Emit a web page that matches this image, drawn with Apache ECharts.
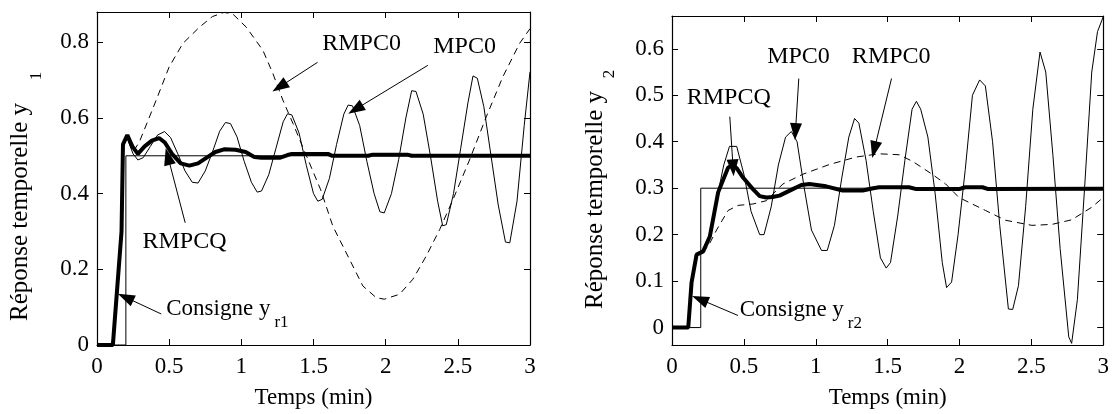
<!DOCTYPE html>
<html><head><meta charset="utf-8">
<script src="https://cdn.jsdelivr.net/npm/echarts@6/dist/echarts.min.js"></script>
<style>html,body{margin:0;padding:0;background:#fff}#c{width:1112px;height:414px}</style>
</head><body><div id="c"></div>
<script>
const FONT = '"Liberation Serif","Times New Roman",serif';

// ---------- tick labels ----------
const xTicks = [0, 0.5, 1, 1.5, 2, 2.5, 3];
const y1Ticks = [0, 0.2, 0.4, 0.6, 0.8];
const y2Ticks = [0, 0.1, 0.2, 0.3, 0.4, 0.5, 0.6];
const xRange = [0, 3];
const y1Range = [0, 0.88];
const y2Range = [-0.0375, 0.6706];

// ---------- y1 (left plot) ----------
const y1SetT = [0, 0.2, 0.2, 3];
const y1SetV = [0, 0, 0.5, 0.5];

const y1Mpc0T = [0,0.11,0.17,0.185,0.21,0.25,0.283,0.32,0.37,0.42,0.468,0.51,0.56,0.61,0.66,0.70,0.75,0.80,0.85,0.89,0.925,0.97,1.02,1.07,1.11,1.14,1.19,1.24,1.29,1.32,1.35,1.40,1.45,1.50,1.53,1.56,1.61,1.66,1.71,1.74,1.77,1.82,1.87,1.92,1.96,1.99,2.04,2.09,2.14,2.18,2.21,2.26,2.31,2.36,2.395,2.42,2.47,2.52,2.57,2.605,2.635,2.68,2.73,2.78,2.83,2.86,2.91,2.96,3.0];
const y1Mpc0V = [0,0,0.30,0.53,0.545,0.505,0.489,0.495,0.525,0.555,0.564,0.548,0.505,0.46,0.43,0.428,0.46,0.51,0.565,0.588,0.585,0.55,0.485,0.43,0.404,0.407,0.45,0.52,0.59,0.611,0.608,0.56,0.475,0.40,0.380,0.385,0.44,0.53,0.61,0.634,0.632,0.58,0.485,0.40,0.352,0.349,0.40,0.49,0.60,0.672,0.670,0.61,0.50,0.38,0.315,0.318,0.40,0.52,0.64,0.711,0.705,0.63,0.50,0.37,0.272,0.270,0.38,0.58,0.722];

const y1Rmpc0T = [0,0.11,0.17,0.18,0.21,0.25,0.295,0.35,0.41,0.50,0.595,0.71,0.80,0.88,0.94,1.034,1.149,1.218,1.288,1.357,1.44,1.55,1.634,1.75,1.842,1.935,1.99,2.096,2.189,2.281,2.374,2.466,2.581,2.697,2.812,2.928,3.0];
const y1Rmpc0V = [0,0,0.30,0.53,0.545,0.51,0.538,0.59,0.647,0.735,0.797,0.84,0.868,0.879,0.875,0.84,0.779,0.718,0.647,0.586,0.51,0.41,0.314,0.226,0.156,0.125,0.121,0.134,0.174,0.235,0.305,0.384,0.489,0.603,0.709,0.797,0.836];

const y1RmpcqT = [0,0.11,0.17,0.18,0.21,0.245,0.283,0.33,0.38,0.43,0.47,0.52,0.58,0.64,0.70,0.76,0.82,0.88,0.96,1.03,1.09,1.14,1.27,1.32,1.35,1.60,1.63,1.88,1.91,2.15,2.18,3.0];
const y1RmpcqV = [0,0,0.30,0.53,0.555,0.525,0.505,0.525,0.54,0.547,0.535,0.505,0.48,0.474,0.48,0.495,0.51,0.517,0.516,0.51,0.497,0.495,0.495,0.502,0.505,0.505,0.5,0.5,0.503,0.503,0.5,0.5];

// ---------- y2 (right plot) ----------
const y2SetT = [0, 0.2, 0.2, 3];
const y2SetV = [0, 0, 0.3, 0.3];

const y2Mpc0T = [0,0.113,0.136,0.171,0.217,0.263,0.321,0.36,0.40,0.45,0.50,0.55,0.61,0.64,0.69,0.74,0.79,0.83,0.87,0.92,0.97,1.04,1.08,1.13,1.18,1.23,1.27,1.30,1.35,1.40,1.45,1.49,1.52,1.57,1.62,1.67,1.70,1.73,1.78,1.83,1.88,1.91,1.945,1.99,2.04,2.09,2.14,2.18,2.23,2.28,2.34,2.37,2.41,2.46,2.51,2.56,2.60,2.65,2.70,2.76,2.78,2.82,2.87,2.92,2.96,3.0];
const y2Mpc0V = [0,0,0.097,0.157,0.164,0.196,0.291,0.35,0.39,0.39,0.33,0.25,0.20,0.20,0.26,0.35,0.41,0.422,0.40,0.30,0.21,0.166,0.166,0.22,0.32,0.41,0.45,0.44,0.36,0.25,0.15,0.128,0.14,0.24,0.36,0.47,0.487,0.47,0.41,0.29,0.14,0.086,0.098,0.20,0.34,0.50,0.533,0.52,0.40,0.22,0.04,0.039,0.09,0.26,0.47,0.593,0.55,0.37,0.17,-0.02,-0.034,0.06,0.30,0.55,0.637,0.669];

const y2Rmpc0T = [0,0.113,0.136,0.171,0.217,0.26,0.31,0.39,0.46,0.563,0.656,0.771,0.91,1.095,1.28,1.44,1.58,1.672,1.81,1.904,1.996,2.181,2.32,2.504,2.642,2.781,2.92,3.0];
const y2Rmpc0V = [0,0,0.097,0.157,0.162,0.18,0.21,0.252,0.263,0.266,0.273,0.309,0.33,0.351,0.367,0.374,0.372,0.358,0.33,0.309,0.28,0.252,0.231,0.220,0.222,0.232,0.259,0.28];

const y2RmpcqT = [0,0.113,0.136,0.171,0.217,0.263,0.321,0.344,0.39,0.42,0.45,0.494,0.563,0.61,0.656,0.70,0.748,0.84,0.90,0.956,1.072,1.187,1.326,1.40,1.441,1.649,1.70,1.996,2.04,2.16,2.2,3.0];
const y2RmpcqV = [0,0,0.097,0.157,0.164,0.196,0.291,0.309,0.344,0.351,0.343,0.323,0.298,0.283,0.28,0.281,0.284,0.298,0.307,0.309,0.304,0.295,0.295,0.3,0.302,0.302,0.298,0.298,0.302,0.302,0.298,0.299];

// ---------- annotations (data coordinates) ----------
const ann1Text = ['RMPC0', 'MPC0', 'RMPCQ'];
const ann1TextT = [1.833, 2.547, 0.606];
const ann1TextV = [0.797, 0.787, 0.274];
const ann1ArrFromT = [1.528, 2.292, 0.611, 0.445];
const ann1ArrFromV = [0.747, 0.739, 0.323, 0.082];
const ann1ArrToT = [1.265, 1.791, 0.491, 0.198];
const ann1ArrToV = [0.682, 0.623, 0.498, 0.126];
const ann1Cons = {main: 'Consigne y', sub: 'r1', t: 0.48, v: 0.095};

const ann2Text = ['RMPCQ', 'MPC0', 'RMPC0'];
const ann2TextT = [0.395, 0.880, 1.525];
const ann2TextV = [0.495, 0.582, 0.582];
const ann2ArrFromT = [0.402, 0.882, 1.527, 0.459];
const ann2ArrFromV = [0.454, 0.536, 0.536, 0.026];
const ann2ArrToT = [0.425, 0.859, 1.407, 0.194];
const ann2ArrToV = [0.344, 0.422, 0.383, 0.061];
const ann2Cons = {main: 'Consigne y', sub: 'r2', t: 0.471, v: 0.037};

function pairs(t, v) { return t.map((x, i) => [x, v[i]]); }
function arrows(ft, fv, tt, tv) {
  return ft.map((x, i) => [
    {coord: [x, fv[i]], symbol: 'none'},
    {coord: [tt[i], tv[i]], symbol: 'triangle', symbolSize: [12, 17]}
  ]);
}

const chart = echarts.init(document.getElementById('c'), null, {renderer: 'canvas'});

function xAx(grid, pos) {
  return {
    type: 'value', gridIndex: grid, position: pos, min: xRange[0], max: xRange[1], interval: 0.5,
    axisLine: {show: true, onZero: false, lineStyle: {color: '#000', width: 1.2}},
    axisTick: {show: true, inside: true, length: 6, lineStyle: {color: '#000'}},
    axisLabel: {show: pos === 'bottom', color: '#000', fontFamily: FONT, fontSize: 23, margin: 10},
    splitLine: {show: false},
    name: pos === 'bottom' ? 'Temps (min)' : '', nameLocation: 'middle', nameGap: 41,
    nameTextStyle: {color: '#000', fontFamily: FONT, fontSize: 23}
  };
}
function yAx(grid, pos, range, ticks) {
  return {
    type: 'value', gridIndex: grid, position: pos, min: range[0], max: range[1],
    axisLine: {show: true, onZero: false, lineStyle: {color: '#000', width: 1.2}},
    axisTick: {show: true, inside: true, length: 6, lineStyle: {color: '#000'}, customValues: ticks},
    axisLabel: {show: pos === 'left', color: '#000', fontFamily: FONT, fontSize: 23, margin: 8,
      customValues: ticks, formatter: v => String(+(+v).toFixed(2))},
    splitLine: {show: false}
  };
}
function line(xi, yi, t, v, width, type, z, extra) {
  return Object.assign({
    type: 'line', xAxisIndex: xi, yAxisIndex: yi, data: pairs(t, v), showSymbol: false, symbol: 'none',
    lineStyle: {color: '#000', width: width, type: type}, z: z, animation: false, silent: true, clip: true
  }, extra || {});
}
function markArrows(ft, fv, tt, tv) {
  return {markLine: {silent: true, animation: false, label: {show: false},
    lineStyle: {color: '#000', width: 1, type: 'solid'}, symbol: ['none', 'triangle'],
    data: arrows(ft, fv, tt, tv)}};
}

chart.setOption({
  animation: false,
  backgroundColor: '#fff',
  grid: [
    {left: 97, top: 12, width: 433, height: 334, containLabel: false},
    {left: 672, top: 16, width: 433, height: 334, containLabel: false}
  ],
  xAxis: [xAx(0, 'bottom'), xAx(0, 'top'), xAx(1, 'bottom'), xAx(1, 'top')],
  yAxis: [yAx(0, 'left', y1Range, y1Ticks), yAx(0, 'right', y1Range, y1Ticks),
          yAx(1, 'left', y2Range, y2Ticks), yAx(1, 'right', y2Range, y2Ticks)],
  series: [
    line(0, 0, y1SetT, y1SetV, 1, 'solid', 2, markArrows(ann1ArrFromT, ann1ArrFromV, ann1ArrToT, ann1ArrToV)),
    line(0, 0, y1Mpc0T, y1Mpc0V, 1, 'solid', 3),
    line(0, 0, y1Rmpc0T, y1Rmpc0V, 1, [7, 5], 3),
    line(0, 0, y1RmpcqT, y1RmpcqV, 4, 'solid', 4),
    line(2, 2, y2SetT, y2SetV, 1, 'solid', 2, markArrows(ann2ArrFromT, ann2ArrFromV, ann2ArrToT, ann2ArrToV)),
    line(2, 2, y2Mpc0T, y2Mpc0V, 1, 'solid', 3),
    line(2, 2, y2Rmpc0T, y2Rmpc0V, 1, [7, 5], 3),
    line(2, 2, y2RmpcqT, y2RmpcqV, 4, 'solid', 4)
  ]
});

// text annotations placed through the axes' scales
const mctx = document.createElement('canvas').getContext('2d');
function textW(s, size) { mctx.font = size + 'px ' + FONT; return mctx.measureText(s).width; }
const g = [];
function addTexts(si, names, ts, vs) {
  names.forEach((s, i) => {
    const p = chart.convertToPixel({seriesIndex: si}, [ts[i], vs[i]]);
    g.push({type: 'text', x: p[0], y: p[1], silent: true, z: 10,
      style: {text: s, font: '24px ' + FONT, fill: '#000', align: 'center', verticalAlign: 'middle'}});
  });
}
function addCons(si, c) {
  const p = chart.convertToPixel({seriesIndex: si}, [c.t, c.v]);
  g.push({type: 'text', x: p[0], y: p[1], silent: true, z: 10,
    style: {text: c.main, font: '23px ' + FONT, fill: '#000', align: 'left', verticalAlign: 'middle'}});
  const w = textW(c.main, 23);
  g.push({type: 'text', x: p[0] + w + 4, y: p[1] + 13, silent: true, z: 10,
    style: {text: c.sub, font: '17px ' + FONT, fill: '#000', align: 'left', verticalAlign: 'middle'}});
}
addTexts(0, ann1Text, ann1TextT, ann1TextV);
addTexts(4, ann2Text, ann2TextT, ann2TextV);
addCons(0, ann1Cons);
addCons(4, ann2Cons);

// rotated y-axis titles with subscript
function yTitle(cx, cy, sx, sy, sub) {
  g.push({type: 'text', x: cx, y: cy, rotation: Math.PI / 2, silent: true,
    style: {text: 'Réponse temporelle y', font: '25px ' + FONT, fill: '#000', align: 'center', verticalAlign: 'middle'}});
  g.push({type: 'text', x: sx, y: sy, rotation: Math.PI / 2, silent: true,
    style: {text: sub, font: '17px ' + FONT, fill: '#000', align: 'center', verticalAlign: 'middle'}});
}
yTitle(20, 212, 37, 76, '1');
yTitle(595, 200, 610, 74, '2');

chart.setOption({graphic: g});
</script>
</body></html>
